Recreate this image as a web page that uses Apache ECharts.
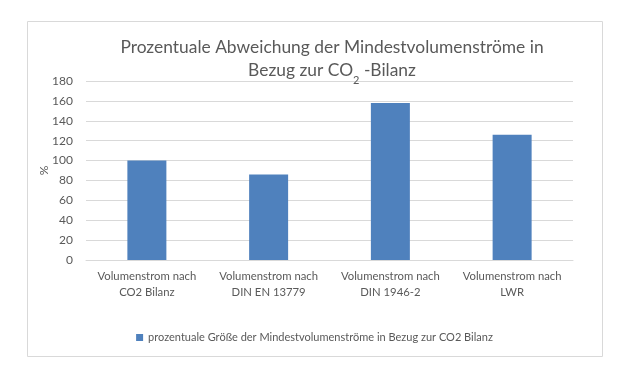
<!DOCTYPE html>
<html>
<head>
<meta charset="utf-8">
<script src="https://cdn.jsdelivr.net/npm/echarts@6/dist/echarts.min.js"></script>
<style>
  html, body { margin: 0; padding: 0; background: #fff; }
  #chart { width: 629px; height: 378px; }
</style>
</head>
<body>
<div id="chart"></div>
<script>
const categories = ["Volumenstrom nach\nCO2 Bilanz", "Volumenstrom nach\nDIN EN 13779", "Volumenstrom nach\nDIN 1946-2", "Volumenstrom nach\nLWR"];
const values = [100, 86, 158, 126];
const seriesName = "prozentuale Größe der Mindestvolumenströme in Bezug zur CO2 Bilanz";

const font = "Lato, 'Open Sans', sans-serif";
const chart = echarts.init(document.getElementById("chart"));

chart.setOption({
  animation: false,
  textStyle: { fontFamily: font },
  title: {
    left: 327,
    top: 31,
    textAlign: "center",
    text: "Prozentuale Abweichung der Mindestvolumenströme in\n{n|Bezug zur CO}{s|2}{n| -Bilanz}",
    textStyle: {
      fontFamily: font,
      fontSize: 17.4,
      fontWeight: "normal",
      color: "#595959",
      lineHeight: 23,
      rich: {
        n: { fontFamily: font, fontSize: 17.4, color: "#595959", lineHeight: 23 },
        s: { fontFamily: font, fontSize: 11, color: "#595959", verticalAlign: "bottom", lineHeight: 18, padding: [0, 0, -4, 0] }
      }
    }
  },
  graphic: [{
    type: "rect",
    shape: { x: 27.5, y: 21.5, width: 575, height: 335 },
    style: { fill: "none", stroke: "#d9d9d9", lineWidth: 1 },
    silent: true
  }],
  legend: {
    bottom: 30,
    left: "center",
    itemWidth: 7,
    itemHeight: 7,
    itemGap: 4,
    icon: "rect",
    textStyle: { fontFamily: font, fontSize: 11, color: "#595959" },
    data: [seriesName]
  },
  grid: { left: 86, right: 56, top: 81, bottom: 118 },
  xAxis: {
    type: "category",
    data: categories,
    axisLine: { lineStyle: { color: "#d9d9d9" } },
    axisTick: { show: false },
    axisLabel: { interval: 0, fontFamily: font, fontSize: 11.3, color: "#595959", lineHeight: 16, margin: 8 }
  },
  yAxis: {
    type: "value",
    min: 0,
    max: 180,
    interval: 20,
    name: "%",
    nameLocation: "middle",
    nameGap: 36,
    nameMoveOverlap: false,
    nameTextStyle: { fontFamily: font, fontSize: 12, color: "#595959" },
    axisLine: { show: false },
    axisTick: { show: false },
    axisLabel: { fontFamily: font, fontSize: 12, color: "#595959", margin: 13 },
    splitLine: { lineStyle: { color: "#d9d9d9" } }
  },
  series: [{
    name: seriesName,
    type: "bar",
    data: values,
    barWidth: 39,
    itemStyle: { color: "#4f81bd" }
  }]
});
</script>
</body>
</html>
